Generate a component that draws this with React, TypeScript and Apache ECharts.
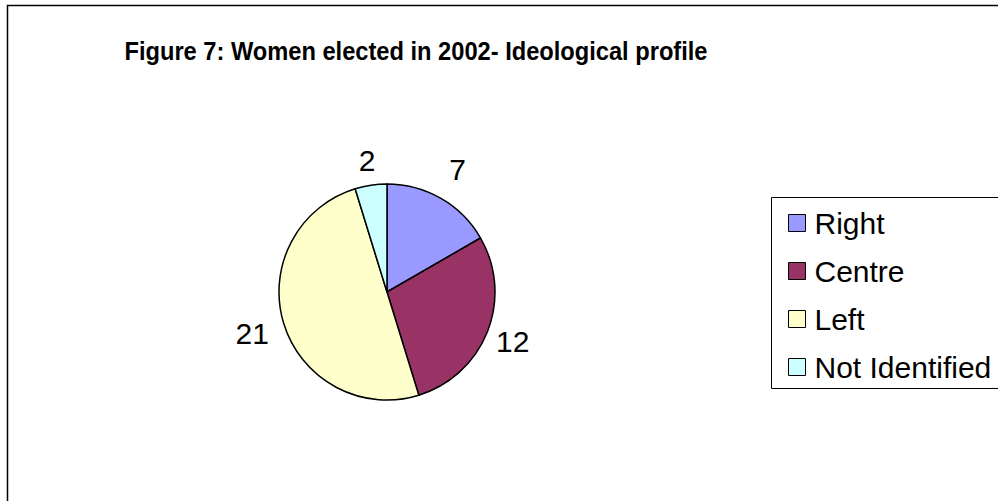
import React, { useEffect, useRef } from "react";
import * as echarts from "echarts";

const titleText = "Figure 7: Women elected in 2002- Ideological profile";
const categories = ["Right", "Centre", "Left", "Not Identified"];
const values = [7, 12, 21, 2];
const colors = ["#9999FF", "#993366", "#FFFFCC", "#CCFFFF"];
const labelLineLengths = [33, 27, 33, 25];

export default function App() {
  const ref = useRef<HTMLDivElement>(null);
  useEffect(() => {
    document.body.style.margin = "0";
    const chart = echarts.init(ref.current!, null, { renderer: "svg" });
    const font = "'Liberation Sans', Arial, sans-serif";
    chart.setOption({
      animation: false,
      backgroundColor: "#ffffff",
      graphic: [
        {
          type: "rect",
          silent: true,
          shape: { x: 7.5, y: 5.5, width: 1200, height: 700 },
          style: { fill: "none", stroke: "#000", lineWidth: 1.5 },
        },
        {
          type: "rect",
          silent: true,
          shape: { x: 771.5, y: 197.5, width: 400, height: 191 },
          style: { fill: "none", stroke: "#000", lineWidth: 1 },
        },
        {
          type: "text",
          x: 416,
          y: 51,
          scaleX: 0.91,
          style: {
            text: titleText,
            fill: "#000",
            font: "bold 26px 'Liberation Sans', Arial, sans-serif",
            textAlign: "center",
            textVerticalAlign: "middle",
          },
        },
      ],
      legend: {
        orient: "vertical",
        left: 783,
        top: 203,
        itemWidth: 17,
        itemHeight: 17,
        itemGap: 18,
        icon: "rect",
        data: categories,
        itemStyle: { borderColor: "#000", borderWidth: 1 },
        textStyle: {
          fontFamily: font,
          fontSize: 30,
          color: "#000",
          lineHeight: 30,
          padding: [0, 0, 0, 4],
        },
      },
      series: [
        {
          type: "pie",
          center: [387, 292],
          radius: 108,
          startAngle: 90,
          clockwise: true,
          avoidLabelOverlap: false,
          data: categories.map((name, i) => ({
            name,
            value: values[i],
            itemStyle: { color: colors[i] },
            labelLine: { length: labelLineLengths[i] },
          })),
          itemStyle: { borderColor: "#000", borderWidth: 1.5 },
          label: {
            show: true,
            position: "outside",
            formatter: "{c}",
            fontFamily: font,
            fontSize: 30,
            color: "#000",
          },
          labelLine: {
            show: true,
            length: 30,
            length2: 0,
            lineStyle: { width: 0, opacity: 0 },
          },
          labelLayout: (p: any) => {
            const pts = p.labelLinePoints;
            if (!pts) return {};
            return {
              x: pts[1][0],
              y: pts[1][1],
              align: "center",
              verticalAlign: "middle",
            };
          },
          emphasis: { disabled: true },
        },
      ],
    });
    return () => chart.dispose();
  }, []);
  return <div ref={ref} style={{ width: 998, height: 501 }} />;
}
